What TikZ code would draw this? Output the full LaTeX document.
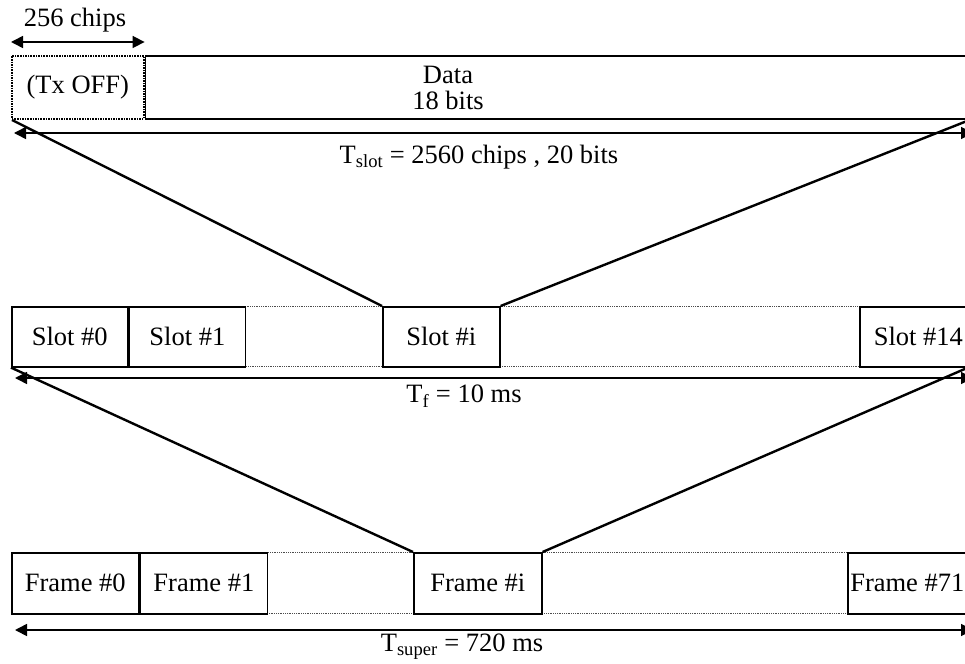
\documentclass[tikz,border=0pt]{standalone}
\usepackage{fontspec}
\setmainfont{Liberation Serif}
\usetikzlibrary{arrows.meta}

\begin{document}
\begin{tikzpicture}[x=1pt,y=-1pt,
  every node/.style={font=\fontsize{26.5}{30}\selectfont, align=center},
  box/.style={draw, line width=1.6pt, inner sep=0pt, minimum height=60pt, anchor=north west},
  span/.style={{Triangle[length=12pt,width=12pt]}-{Triangle[length=12pt,width=12pt]}, line width=1.6pt},
  zoomline/.style={line width=2.4pt},
  guide/.style={densely dotted, line width=0.8pt, gray!60!black}]
  \useasboundingbox (0,0) rectangle (965,663);

  % Slot
  \node[box, densely dotted, minimum width=132pt, minimum height=63pt] (txoff) at (11,55) {(Tx OFF)};
  \node[box, minimum width=837pt, minimum height=63pt] (data) at (txoff.north east) {};
  \node (datatext) at (448,88) {Data\\[-4pt]18 bits};
  \draw[span] ([yshift=13pt]txoff.north west) -- ([yshift=13pt]txoff.north east);
  \node (chips) at (75,20) {256 chips};

  \coordinate (slotL) at (14,133);
  \coordinate (slotR) at (973,133);
  \draw[span] (slotL) -- (slotR);
  \node (tslot) at (479,157) {T\textsubscript{slot} = 2560 chips , 20 bits};

  % Frame
  \draw[guide] (243,306) -- (859,306);
  \draw[guide] (203,366) -- (920,366);
  \node[box, minimum width=116pt] (slot0) at (11,306) {Slot \#0};
  \node[box, minimum width=116pt] (slot1) at (slot0.north east) {Slot \#1};
  \node[box, minimum width=117pt] (sloti) at (382,306) {Slot \#i};
  \node[box, minimum width=117pt] (slot14) at (859,306) {Slot \#14};

  \coordinate (frameL) at (15,378);
  \coordinate (frameR) at (973,378);
  \draw[span] (frameL) -- (frameR);
  \node (tf) at (464,396) {T\textsubscript{f} = 10 ms};

  % Super frame
  \draw[guide] (225,552) -- (908,552);
  \draw[guide] (213,613) -- (847,613);
  \node[box, minimum width=127pt, minimum height=61pt] (frame0) at (11,552) {Frame \#0};
  \node[box, minimum width=127pt, minimum height=61pt] (frame1) at (frame0.north east) {Frame \#1};
  \node[box, minimum width=128pt, minimum height=61pt] (framei) at (413,552) {Frame \#i};
  \node[box, minimum width=119pt, minimum height=61pt] (frame71) at (847,552) {Frame \#71};

  \coordinate (superL) at (15,630);
  \coordinate (superR) at (973,630);
  \draw[span] (superL) -- (superR);
  \node (tsuper) at (462,647) {T\textsubscript{super} = 720 ms};

  % Zoom lines
  \coordinate (topL) at (12,120);
  \coordinate (topR) at (967,121);
  \coordinate (midR) at (967,368);
  \draw[zoomline] (topL) -- (sloti.north west);
  \draw[zoomline] (topR) -- (sloti.north east);
  \draw[zoomline] (slot0.south west) -- (framei.north west);
  \draw[zoomline] (midR) -- (framei.north east);
\end{tikzpicture}
\end{document}
